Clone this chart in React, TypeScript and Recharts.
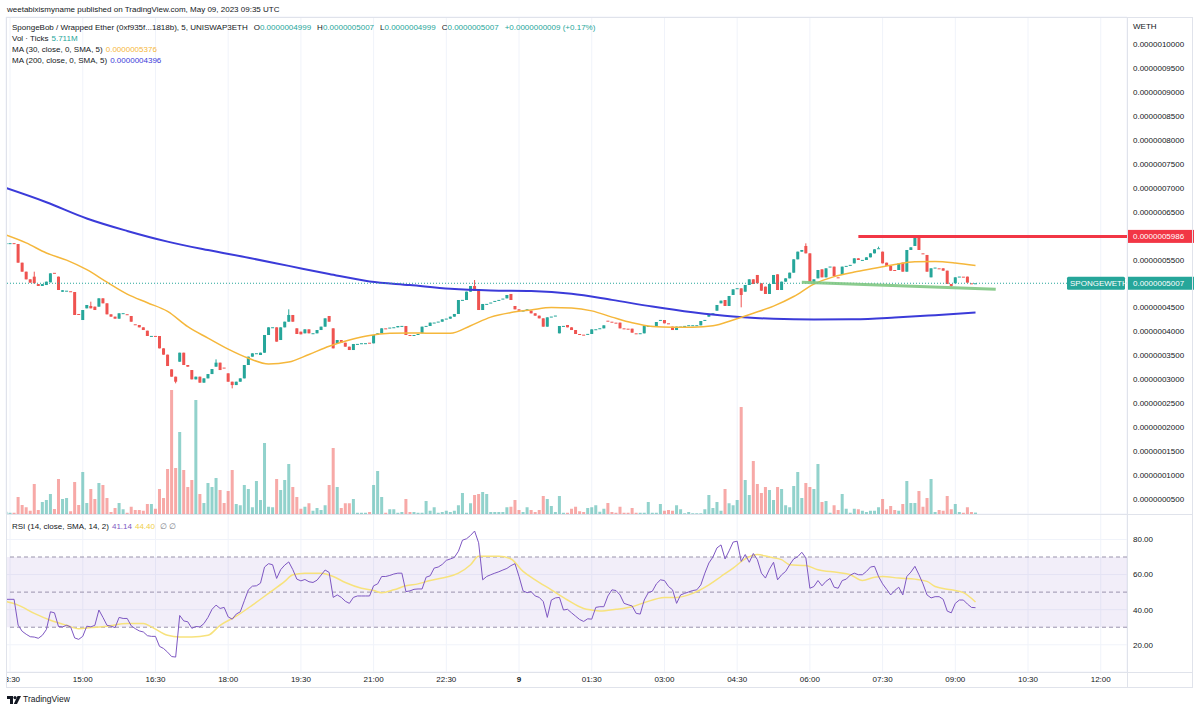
import React from "react";
import {
  ComposedChart,
  Bar,
  Line,
  XAxis,
  YAxis,
  CartesianGrid,
  ReferenceLine,
  ReferenceArea,
} from "recharts";

// Prices are in units of 1e-10 WETH (e.g. 4999 = 0.0000004999). One bar = 5 minutes.
const opens = [
  5830, 5845, 5845, 5827, 5437, 5249, 5089, 5145, 4990, 4950,
  4970, 5026, 5225, 5145, 4830, 4852, 4840, 4824, 4365, 4239,
  4483, 4532, 4518, 4518, 4692, 4588, 4358, 4309, 4267, 4375,
  4360, 4323, 4150, 4135, 4086, 4016, 3905, 3907, 3905, 3647,
  3515, 3208, 3055, 3368, 3556, 3299, 3194, 2999, 3055, 2930,
  3020, 3110, 3264, 3348, 3245, 3125, 2950, 2880, 2950, 3020,
  3299, 3473, 3543, 3508, 3556, 3926, 4086, 4086, 3821, 4086,
  4204, 4344, 4065, 3995, 3961, 4044, 3961, 3961, 4030, 4100,
  4323, 4065, 3752, 3821, 3765, 3682, 3612, 3738, 3752, 3752,
  3765, 3752, 3926, 3961, 4065, 4079, 4086, 4086, 4114, 4114,
  3926, 3924, 3945, 3961, 4114, 4114, 4184, 4204, 4204, 4267,
  4267, 4309, 4365, 4657, 4657, 4831, 4950, 4852, 4448, 4574,
  4602, 4636, 4657, 4685, 4692, 4783, 4532, 4462, 4434, 4434,
  4434, 4379, 4330, 4274, 4100, 4309, 4330, 3961, 4114, 4135,
  4086, 4030, 3947, 3933, 3947, 3947, 4044, 4065, 4065, 4225,
  4204, 4184, 4184, 4065, 4058, 4058, 3961, 3961, 3961, 4114,
  4114, 4114, 4239, 4239, 4170, 4100, 4030, 4100, 4114, 4128,
  4128, 4128, 4128, 4239, 4309, 4379, 4434, 4588, 4657, 4532,
  4762, 4901, 4901, 4831, 4971, 5089, 5180, 5006, 4936, 4783,
  4992, 5194, 4866, 5040, 5110, 5228, 5507, 5667, 5786, 5632,
  5040, 5110, 5298, 5131, 5354, 5354, 5131, 5180, 5368, 5389,
  5423, 5528, 5493, 5493, 5549, 5632, 5737, 5667, 5437, 5368,
  5284, 5284, 5437, 5249, 5702, 5786, 5975, 5632, 5598, 5131,
  5333, 5319, 5319, 5270, 4992, 5006, 5145, 5145, 5145, 5006,
  4999,
];

const closes = [
  5845, 5845, 5836, 5437, 5249, 5089, 5020, 5006, 4950, 4990,
  5040, 5214, 5215, 4866, 4860, 4852, 4838, 4344, 4355, 4448,
  4553, 4483, 4448, 4692, 4588, 4358, 4309, 4267, 4379, 4382,
  4358, 4204, 4148, 4086, 4030, 3905, 3907, 3903, 3647, 3515,
  3278, 3055, 2950, 3556, 3299, 3264, 2999, 3055, 2930, 3020,
  3110, 3215, 3348, 3194, 3240, 2950, 2880, 2950, 3020, 3299,
  3473, 3543, 3545, 3556, 3926, 4086, 4088, 3787, 4086, 4204,
  4344, 4204, 3947, 3940, 4044, 3961, 3963, 4030, 4100, 4274,
  4204, 3647, 3821, 3765, 3682, 3612, 3738, 3740, 3754, 3755,
  3762, 3926, 3961, 4065, 4060, 4081, 4088, 4114, 4116, 3926,
  3924, 3926, 3947, 4100, 4116, 4184, 4186, 4206, 4253, 4269,
  4309, 4365, 4657, 4660, 4831, 4950, 4852, 4448, 4574, 4576,
  4604, 4638, 4659, 4687, 4762, 4657, 4462, 4434, 4436, 4462,
  4379, 4330, 4274, 4100, 4295, 4311, 4332, 4114, 4116, 4086,
  4030, 3947, 3945, 3931, 3949, 4044, 4046, 4067, 4128, 4222,
  4202, 4182, 4065, 4063, 4056, 3975, 3959, 3963, 4114, 4116,
  4116, 4197, 4241, 4170, 4168, 4030, 4100, 4102, 4116, 4130,
  4130, 4130, 4218, 4241, 4358, 4381, 4553, 4643, 4532, 4741,
  4880, 4903, 4762, 4971, 5089, 4992, 5006, 4852, 4783, 4992,
  5180, 4866, 5040, 5110, 5228, 5507, 5667, 5702, 5632, 5040,
  5089, 5284, 5131, 5319, 5356, 5159, 5129, 5354, 5370, 5391,
  5528, 5493, 5495, 5549, 5632, 5716, 5739, 5423, 5368, 5270,
  5282, 5423, 5249, 5702, 5758, 5960, 5702, 5630, 5249, 5319,
  5335, 5317, 5270, 4992, 4950, 5131, 5147, 5143, 5020, 4998,
  5007,
];

// Bars whose wick reaches beyond the body: [bar, high, low]
const wicks: [number, number | null, number | null][] = [
  [7, 5249, null],
  [21, 4622, null],
  [42, null, 2916],
  [52, 3417, null],
  [56, null, 2811],
  [70, 4462, null],
  [116, 5075, null],
  [182, null, 4504],
  [198, 5841, null],
  [200, null, 5006],
  [216, 5772, null],
  [226, 5986, null],
  [234, null, 4936],
];

// Volume, millions of ticks
const volumes = [
  9, 5, 5, 68, 36, 27, 13, 120, 16, 48,
  56, 80, 20, 140, 60, 64, 11, 128, 36, 168,
  44, 100, 60, 124, 116, 64, 8, 24, 44, 19,
  5, 29, 16, 16, 13, 40, 40, 21, 100, 64,
  180, 496, 184, 328, 176, 108, 136, 456, 80, 44,
  124, 108, 144, 96, 44, 92, 176, 40, 35, 116,
  100, 27, 132, 56, 284, 29, 27, 140, 96, 136,
  200, 108, 68, 21, 29, 43, 13, 24, 16, 35,
  116, 264, 108, 24, 43, 43, 60, 5, 5, 5,
  8, 116, 172, 68, 5, 19, 19, 5, 8, 60,
  8, 8, 5, 5, 52, 13, 27, 5, 8, 13,
  8, 13, 35, 84, 5, 43, 76, 80, 88, 80,
  8, 8, 8, 8, 27, 29, 56, 16, 8, 27,
  16, 8, 16, 72, 60, 32, 8, 72, 5, 5,
  21, 29, 11, 8, 24, 27, 35, 9, 21, 44,
  8, 5, 29, 5, 5, 24, 5, 5, 5, 48,
  5, 5, 40, 13, 16, 13, 35, 19, 3, 8,
  3, 3, 3, 19, 76, 24, 48, 13, 100, 43,
  35, 56, 428, 136, 76, 212, 120, 84, 108, 96,
  56, 108, 100, 35, 27, 112, 168, 64, 124, 108,
  100, 200, 48, 52, 5, 35, 16, 80, 21, 5,
  21, 19, 13, 8, 13, 13, 27, 60, 19, 32,
  16, 13, 40, 132, 44, 44, 92, 29, 64, 140,
  8, 16, 13, 72, 19, 40, 8, 5, 27, 8,
  5.711,
];

const rsiValues = [
  45.9, 45.9, 45.9, 31.2, 27.7, 26.0, 24.6, 24.4, 23.7, 25.4,
  28.7, 38.8, 38.2, 30.4, 30.2, 31.1, 30.2, 23.9, 23.1, 24.8,
  30.6, 30.2, 31.1, 39.8, 35.6, 31.1, 30.6, 29.8, 35.6, 35.0,
  35.0, 30.8, 29.2, 27.9, 27.3, 25.2, 24.8, 24.8, 19.1, 17.9,
  15.8, 13.3, 13.0, 36.7, 33.6, 33.1, 29.4, 30.4, 30.2, 32.1,
  35.6, 40.2, 42.6, 40.7, 41.3, 35.9, 34.6, 37.5, 38.8, 45.1,
  51.3, 53.4, 53.6, 55.1, 64.3, 66.2, 65.6, 57.8, 62.8, 65.4,
  67.2, 62.8, 57.4, 56.4, 57.2, 55.9, 55.5, 56.8, 59.7, 62.6,
  61.2, 47.0, 48.4, 47.0, 44.8, 43.6, 47.0, 47.8, 47.8, 47.8,
  47.8, 53.6, 54.7, 58.9, 58.9, 59.5, 60.3, 60.8, 60.8, 50.3,
  50.7, 51.6, 51.8, 51.8, 58.5, 59.3, 63.7, 64.3, 65.8, 68.1,
  68.9, 69.8, 73.3, 79.6, 80.4, 82.3, 84.8, 78.1, 57.0, 58.9,
  59.9, 60.8, 61.6, 62.6, 63.5, 65.1, 66.2, 58.9, 50.7, 49.7,
  50.3, 47.8, 47.0, 44.6, 35.6, 45.5, 46.7, 47.0, 39.8, 40.2,
  38.2, 36.3, 34.4, 33.3, 34.8, 34.6, 41.3, 41.7, 41.7, 47.8,
  51.3, 50.9, 48.4, 43.6, 42.8, 42.1, 37.9, 37.5, 45.5, 49.7,
  50.5, 54.7, 57.0, 56.6, 53.2, 51.3, 43.6, 48.4, 49.3, 50.1,
  50.9, 51.3, 54.1, 60.8, 66.6, 70.0, 75.2, 76.9, 68.9, 73.5,
  78.5, 79.0, 67.5, 71.4, 67.0, 72.0, 68.5, 60.8, 58.0, 63.1,
  67.0, 57.0, 59.9, 61.8, 65.6, 68.9, 70.2, 72.7, 69.5, 52.2,
  53.2, 56.6, 53.6, 56.2, 57.8, 52.8, 52.2, 56.6, 57.4, 59.7,
  60.8, 59.9, 59.9, 61.8, 64.3, 64.7, 58.9, 54.7, 51.6, 48.4,
  50.9, 52.8, 48.4, 58.9, 61.4, 64.7, 59.9, 54.7, 48.4, 46.7,
  47.4, 47.4, 45.9, 39.2, 38.2, 43.6, 45.5, 45.5, 43.2, 41.3,
  41.14,
];

// Moving averages as [bar, value]
const ma30Points: [number, number][] = [
  [0, 6015], [5, 5850], [10, 5640], [15, 5490], [20, 5290], [25, 5030],
  [30, 4780], [35, 4600], [40, 4420], [45, 4100], [50, 3860], [55, 3630],
  [60, 3440], [65, 3320], [70, 3360], [75, 3520], [80, 3690], [85, 3820],
  [90, 3915], [95, 3960], [100, 3970], [105, 3962], [110, 3961], [115, 4120],
  [120, 4300], [125, 4395], [130, 4450], [135, 4500], [140, 4490], [145, 4430],
  [150, 4300], [155, 4180], [160, 4105], [165, 4088], [170, 4090], [175, 4120],
  [180, 4240], [185, 4380], [190, 4530], [195, 4730], [200, 4990], [205, 5145],
  [210, 5240], [215, 5320], [220, 5400], [225, 5455], [230, 5460], [235, 5430],
  [240, 5376],
];

const ma200Points: [number, number][] = [
  [0, 6997], [10, 6700], [20, 6360], [30, 6100], [40, 5877], [50, 5700],
  [60, 5540], [70, 5370], [80, 5200], [90, 5045], [100, 4970], [110, 4890],
  [120, 4855], [130, 4845], [140, 4790], [150, 4660], [160, 4520], [170, 4400],
  [180, 4310], [190, 4265], [200, 4250], [210, 4255], [220, 4290], [230, 4340],
  [240, 4396],
];

const rsiMaBars = [
  0, 3, 7, 11, 15, 18, 21, 25, 30, 34, 36, 40, 43, 46, 50, 53, 57, 61, 65, 69,
  71, 74, 78, 81, 84, 88, 91, 93, 96, 99, 102, 105, 108, 112, 115, 117, 119, 122, 125, 128,
  131, 135, 139, 143, 145, 147, 151, 155, 158, 163, 166, 170, 174, 177, 180, 183, 186, 189, 192, 194,
  198, 201, 206, 209, 212, 215, 217, 221, 225, 228, 230, 234, 237, 240,
];
const rsiMaValues = [
  44.6, 42.6, 37.9, 34.0, 31.1, 29.2, 29.8, 30.6, 32.1, 32.1, 30.2, 25.4, 24.4, 24.4, 25.4, 31.1, 36.3, 42.6, 49.3, 56.1,
  59.9, 60.8, 60.8, 58.9, 55.5, 52.2, 50.9, 49.7, 51.3, 53.6, 54.7, 56.6, 58.0, 60.8, 65.6, 70.4, 70.4, 70.4, 68.9, 61.8,
  57.0, 51.3, 45.5, 40.7, 39.8, 39.2, 40.2, 41.7, 44.0, 47.0, 47.0, 49.3, 54.1, 58.9, 63.7, 68.9, 71.4, 70.0, 68.5, 65.6,
  65.1, 62.8, 61.2, 59.9, 56.6, 58.5, 58.9, 58.0, 57.4, 56.1, 53.2, 51.3, 49.7, 44.4,
];

// Drawn levels
const resistanceLevel = 5986;
const resistanceStartBar = 211;
const supportLine: [number, number][] = [
  [197, 5027],
  [245, 4881],
];

const timeTicks = [1, 19, 37, 55, 73, 91, 109, 127, 145, 163, 181, 199, 217, 235, 253, 271];
const timeLabels = [
  "13:30", "15:00", "16:30", "18:00", "19:30", "21:00", "22:30", "9",
  "01:30", "03:00", "04:30", "06:00", "07:30", "09:00", "10:30", "12:00",
];
const priceTicks = Array.from({ length: 20 }, (_, k) => (k + 1) * 500);
const rsiTicks = [20, 40, 60, 80];

// ---- styling / layout constants ----
const FONT = '"Liberation Sans", Arial, Helvetica, sans-serif';
const UP = "#26a69a";
const DOWN = "#ef5350";
const VOL_UP = "rgba(38,166,154,0.5)";
const VOL_DOWN = "rgba(239,83,80,0.5)";
const MA30_COLOR = "#f5b73b";
const MA200_COLOR = "#3b3bd9";
const RSI_COLOR = "#7e57c2";
const RSI_MA_COLOR = "#f7e27c";
const GRID = "#f0f3fa";
const FRAME = "#e0e3eb";
const TEXT = "#131722";
const FS = 8;

const X_DOMAIN: [number, number] = [0, 277.5];
const PRICE_DOMAIN: [number, number] = [186, 10570];
const VOL_DOMAIN: [number, number] = [0, 1988];
const RSI_DOMAIN: [number, number] = [4.5, 94.5];

const W = 1200;
const MAIN_H = 514;
const AXIS_W = 73;
const LEFT = 6;

const fmtPrice = (v: number) => (v / 1e10).toFixed(10);

// ---- tables built from the arrays ----
const wickMap = new Map(wicks.map(([b, h, l]) => [b, { h, l }]));
const candles = opens.map((o, i) => {
  const c = closes[i];
  const w = wickMap.get(i);
  const h = Math.max(o, c, w && w.h != null ? w.h : -Infinity);
  const l = Math.min(o, c, w && w.l != null ? w.l : Infinity);
  return { i, o, c, h, l, range: [l, h], up: c >= o, vol: volumes[i] };
});
const ma30Data = ma30Points.map(([i, v]) => ({ i, v }));
const ma200Data = ma200Points.map(([i, v]) => ({ i, v }));
const rsiData = rsiValues.map((r, i) => ({ i, r }));
const rsiMaData = rsiMaBars.map((i, k) => ({ i, v: rsiMaValues[k] }));

const last = candles[candles.length - 1];

function Candle(props: any) {
  const { x, y, width, height, payload } = props;
  if (!payload || x == null || y == null) return null;
  const top = height < 0 ? y + height : y;
  const h = Math.abs(height || 0);
  const cx = x + width / 2;
  const span = payload.h - payload.l;
  const py = (v: number) => (span > 0 ? top + ((payload.h - v) / span) * h : top);
  const color = payload.up ? UP : DOWN;
  const bTop = py(Math.max(payload.o, payload.c));
  const bBot = py(Math.min(payload.o, payload.c));
  const bh = Math.max(1, bBot - bTop);
  return (
    <g>
      {h > 0.5 && <line x1={cx} x2={cx} y1={top} y2={top + h} stroke={color} strokeWidth={1} />}
      <rect x={cx - 1.5} y={bTop} width={3} height={bh} fill={color} />
    </g>
  );
}

function VolBar(props: any) {
  const { x, y, width, height, payload } = props;
  if (!payload || x == null) return null;
  const cx = x + width / 2;
  const top = height < 0 ? y + height : y;
  const h = Math.max(0.6, Math.abs(height || 0));
  return <rect x={cx - 1.5} y={top} width={3} height={h} fill={payload.up ? VOL_UP : VOL_DOWN} />;
}

function PriceTag(props: any) {
  const { viewBox, text, fill } = props;
  if (!viewBox) return null;
  const right = viewBox.x + viewBox.width;
  const y = viewBox.y;
  return (
    <g>
      <rect x={right + 1} y={y - 6.5} width={66} height={13} fill={fill} />
      <text x={right + 6} y={y + 3} fill="#fff" fontSize={FS} fontFamily={FONT}>
        {text}
      </text>
    </g>
  );
}

function SymbolTag(props: any) {
  const { viewBox, text, fill } = props;
  if (!viewBox) return null;
  const right = viewBox.x + viewBox.width;
  const y = viewBox.y;
  return (
    <g>
      <rect x={right - 60} y={y - 6.5} width={58} height={13} rx={1.5} fill={fill} />
      <text x={right - 57} y={y + 3} fill="#fff" fontSize={FS} fontFamily={FONT}>
        {text}
      </text>
    </g>
  );
}

function TimeTick(props: any) {
  const { x, y, payload } = props;
  const idx = timeTicks.indexOf(payload.value);
  const label = idx >= 0 ? timeLabels[idx] : "";
  return (
    <text
      x={x}
      y={y}
      dy="0.71em"
      textAnchor="middle"
      fontSize={FS}
      fontFamily={FONT}
      fill={TEXT}
      fontWeight={label === "9" ? 700 : 400}
    >
      {label}
    </text>
  );
}

const axisTick = { fontSize: FS, fill: TEXT, fontFamily: FONT };

function Logo() {
  return (
    <svg width={14} height={9} viewBox="0 0 14 9" style={{ position: "absolute", left: 7, top: 696 }}>
      <path d="M0 0 H6 V8 H3 V3 H0 Z" fill={TEXT} />
      <circle cx={8} cy={1.6} r={1.6} fill={TEXT} />
      <path d="M10.5 0 H14 L10 8 H6.8 Z" fill={TEXT} />
    </svg>
  );
}

function Val({ color, children, gap = 3 }: any) {
  return <span style={{ color, marginLeft: gap }}>{children}</span>;
}

export default function App() {
  return (
    <div
      style={{
        position: "absolute",
        left: 0,
        top: 0,
        width: W,
        height: 711,
        background: "#fff",
        fontFamily: FONT,
        color: TEXT,
        overflow: "hidden",
      }}
    >
      {/* publication line */}
      <div style={{ position: "absolute", left: 7, top: 5, fontSize: FS, whiteSpace: "nowrap" }}>
        weetabixismyname published on TradingView.com, May 09, 2023 09:35 UTC
      </div>

      {/* grid + volume */}
      <div style={{ position: "absolute", left: 0, top: 0 }}>
        <ComposedChart
          width={W}
          height={MAIN_H}
          data={candles}
          margin={{ top: 17, right: 0, bottom: 0, left: LEFT }}
        >
          <XAxis type="number" dataKey="i" domain={X_DOMAIN} ticks={timeTicks} allowDataOverflow hide />
          <YAxis
            yAxisId="price"
            orientation="right"
            width={AXIS_W}
            domain={PRICE_DOMAIN}
            ticks={priceTicks}
            allowDataOverflow
            tick={false}
            axisLine={false}
            tickLine={false}
          />
          <YAxis yAxisId="vol" domain={VOL_DOMAIN} allowDataOverflow hide />
          <CartesianGrid yAxisId="price" stroke={GRID} strokeWidth={1} />
          <Bar yAxisId="vol" dataKey="vol" barSize={4} shape={VolBar} isAnimationActive={false} />
        </ComposedChart>
      </div>

      {/* candles, averages, drawings, price scale */}
      <div style={{ position: "absolute", left: 0, top: 0 }}>
        <ComposedChart
          width={W}
          height={MAIN_H}
          data={candles}
          margin={{ top: 17, right: 0, bottom: 0, left: LEFT }}
        >
          <XAxis type="number" dataKey="i" domain={X_DOMAIN} ticks={timeTicks} allowDataOverflow hide />
          <YAxis
            yAxisId="price"
            orientation="right"
            width={AXIS_W}
            domain={PRICE_DOMAIN}
            ticks={priceTicks.filter((t) => t !== 5000 && t !== 6000)}
            allowDataOverflow
            tickFormatter={fmtPrice}
            tick={axisTick}
            tickSize={0}
            tickMargin={6}
            axisLine={false}
            tickLine={false}
          />
          <Bar yAxisId="price" dataKey="range" barSize={4} shape={Candle} isAnimationActive={false} />
          <Line
            yAxisId="price"
            data={ma200Data}
            dataKey="v"
            type="monotone"
            stroke={MA200_COLOR}
            strokeWidth={2}
            dot={false}
            activeDot={false}
            isAnimationActive={false}
          />
          <Line
            yAxisId="price"
            data={ma30Data}
            dataKey="v"
            type="monotone"
            stroke={MA30_COLOR}
            strokeWidth={1.5}
            dot={false}
            activeDot={false}
            isAnimationActive={false}
          />
          <ReferenceLine
            yAxisId="price"
            y={last.c}
            stroke={UP}
            strokeDasharray="1 2"
            strokeWidth={1}
            label={<SymbolTag text="SPONGEWETH" fill={UP} />}
          />
          <ReferenceLine
            yAxisId="price"
            y={last.c}
            stroke="none"
            label={<PriceTag text={fmtPrice(last.c)} fill={UP} />}
          />
          <ReferenceLine
            yAxisId="price"
            segment={[
              { x: resistanceStartBar, y: resistanceLevel },
              { x: X_DOMAIN[1], y: resistanceLevel },
            ]}
            stroke="#f23645"
            strokeWidth={3}
          />
          <ReferenceLine
            yAxisId="price"
            y={resistanceLevel}
            stroke="none"
            label={<PriceTag text={fmtPrice(resistanceLevel)} fill="#f23645" />}
          />
          <ReferenceLine
            yAxisId="price"
            segment={supportLine.map(([x, y]) => ({ x, y }))}
            stroke="#7fc783"
            strokeWidth={3}
            strokeOpacity={0.9}
          />
        </ComposedChart>
      </div>

      {/* RSI pane with the time scale */}
      <div
        style={{
          position: "absolute",
          left: LEFT,
          top: MAIN_H,
          width: W - LEFT,
          height: 174,
          overflow: "hidden",
        }}
      >
        <div style={{ position: "absolute", left: -LEFT, top: 0 }}>
          <ComposedChart
            width={W}
            height={174}
            data={rsiData}
            margin={{ top: 0, right: 0, bottom: 0, left: LEFT }}
          >
            <XAxis
              type="number"
              dataKey="i"
              domain={X_DOMAIN}
              ticks={timeTicks}
              allowDataOverflow
              height={16}
              tick={<TimeTick />}
              tickSize={0}
              tickMargin={4}
              axisLine={false}
              tickLine={false}
            />
            <YAxis
              orientation="right"
              width={AXIS_W}
              domain={RSI_DOMAIN}
              ticks={rsiTicks}
              allowDataOverflow
              tickFormatter={(v: number) => v.toFixed(2)}
              tick={axisTick}
              tickSize={0}
              tickMargin={6}
              axisLine={false}
              tickLine={false}
            />
            <CartesianGrid stroke={GRID} strokeWidth={1} />
            <ReferenceArea y1={30} y2={70} fill={RSI_COLOR} fillOpacity={0.1} stroke="none" />
            {[70, 50, 30].map((lvl) => (
              <ReferenceLine key={lvl} y={lvl} stroke="#9a94ad" strokeDasharray="4 3" strokeWidth={1} />
            ))}
            <Line
              data={rsiMaData}
              dataKey="v"
              type="monotone"
              stroke={RSI_MA_COLOR}
              strokeWidth={1.5}
              dot={false}
              activeDot={false}
              isAnimationActive={false}
            />
            <Line
              dataKey="r"
              type="linear"
              stroke={RSI_COLOR}
              strokeWidth={1}
              dot={false}
              activeDot={false}
              isAnimationActive={false}
            />
          </ComposedChart>
        </div>
      </div>

      {/* frame */}
      <div
        style={{
          position: "absolute",
          left: LEFT,
          top: 17,
          width: 1193 - LEFT,
          height: 688 - 17,
          border: `1px solid ${FRAME}`,
          boxSizing: "border-box",
          pointerEvents: "none",
        }}
      />
      <div style={{ position: "absolute", left: W - AXIS_W, top: 17, width: 1, height: 671, background: FRAME }} />
      <div style={{ position: "absolute", left: LEFT, top: MAIN_H, width: 1193 - LEFT, height: 1, background: FRAME }} />
      <div style={{ position: "absolute", left: LEFT, top: 672, width: 1193 - LEFT, height: 1, background: FRAME }} />

      {/* price scale currency */}
      <div style={{ position: "absolute", left: 1133, top: 22, fontSize: FS }}>WETH</div>

      {/* main pane legend */}
      <div style={{ position: "absolute", left: 12, top: 22, fontSize: FS, lineHeight: "11px", whiteSpace: "nowrap" }}>
        <div>
          SpongeBob / Wrapped Ether (0xf935f...1818b), 5, UNISWAP3ETH
          <span style={{ marginLeft: 6 }}>O</span>
          <Val color={UP} gap={0}>{fmtPrice(last.o)}</Val>
          <span style={{ marginLeft: 6 }}>H</span>
          <Val color={UP} gap={0}>{fmtPrice(last.h)}</Val>
          <span style={{ marginLeft: 6 }}>L</span>
          <Val color={UP} gap={0}>{fmtPrice(last.l)}</Val>
          <span style={{ marginLeft: 6 }}>C</span>
          <Val color={UP} gap={0}>{fmtPrice(last.c)}</Val>
          <Val color={UP} gap={6}>+0.0000000009 (+0.17%)</Val>
        </div>
        <div>
          Vol · Ticks
          <Val color={UP}>{`${last.vol.toFixed(3)}M`}</Val>
        </div>
        <div>
          MA (30, close, 0, SMA, 5)
          <Val color={MA30_COLOR}>{fmtPrice(ma30Points[ma30Points.length - 1][1])}</Val>
        </div>
        <div>
          MA (200, close, 0, SMA, 5)
          <Val color={MA200_COLOR}>{fmtPrice(ma200Points[ma200Points.length - 1][1])}</Val>
        </div>
      </div>

      {/* RSI legend */}
      <div style={{ position: "absolute", left: 12, top: 521, fontSize: FS, lineHeight: "11px", whiteSpace: "nowrap" }}>
        RSI (14, close, SMA, 14, 2)
        <Val color={RSI_COLOR}>{rsiValues[rsiValues.length - 1].toFixed(2)}</Val>
        <Val color="#f0cf4a">{rsiMaValues[rsiMaValues.length - 1].toFixed(2)}</Val>
        <span style={{ color: "#787b86", marginLeft: 5 }}>∅ ∅</span>
      </div>

      {/* brand */}
      <Logo />
      <div style={{ position: "absolute", left: 23, top: 694, fontSize: 8.5, whiteSpace: "nowrap" }}>
        TradingView
      </div>
    </div>
  );
}
